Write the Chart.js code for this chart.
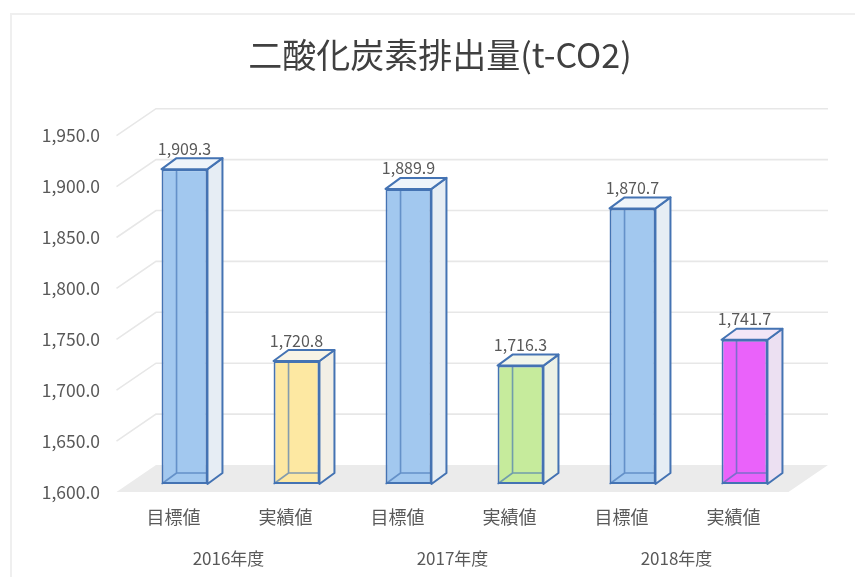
<!DOCTYPE html>
<html>
<head>
<meta charset="utf-8">
<script src="https://cdn.jsdelivr.net/npm/chart.js@4.4.1/dist/chart.umd.min.js"></script>
<style>
  html, body { margin: 0; background: #fff; }
  canvas { display: block; }
</style>
</head>
<body>
<canvas id="chart" width="855" height="577"></canvas>
<script>
// data
const title = "二酸化炭素排出量(t-CO2)";
const categories = ["目標値", "実績値", "目標値", "実績値", "目標値", "実績値"];
const years = ["2016年度", "2017年度", "2018年度"];
const emissions = [1909.3, 1720.8, 1889.9, 1716.3, 1870.7, 1741.7];
const yMin = 1600, yMax = 1950, yStep = 50;

// per-bar face colours (front / right side / top)
const frontColors = ["#a2c8ef", "#fde8a2", "#a2c8ef", "#c6eb9c", "#a2c8ef", "#ea62fa"];
const sideColors  = ["#e6edf4", "#f2efe6", "#e6edf4", "#ecf1e6", "#e6edf4", "#ece0f2"];
const topColors   = ["#eef4fa", "#f8f4e6", "#eef4fa", "#f2f6ec", "#eef4fa", "#f3e6f7"];

const EDGE = "#4473b3";
const TEXT = "#595959";
const FONT = "'Noto Sans CJK JP', 'Noto Sans', sans-serif";

// fake 3D geometry, offsets from the bar plane in px
const DEPTH = { dx: 15, dy: -11 };       // bar depth
const WALL = { frontX: -12, frontY: 8, backX: 27.5, backY: -19 };

const fmt = (v) => Number(v).toLocaleString("en-US", { minimumFractionDigits: 1, maximumFractionDigits: 1 });

const box3d = {
  id: "box3d",
  beforeDraw(chart) {
    const { ctx } = chart;
    ctx.save();
    ctx.strokeStyle = "#efefef";
    ctx.lineWidth = 2;
    ctx.strokeRect(11, 14, 900, 600);
    // title (drawn here so it can sit off-centre like the original)
    ctx.fillStyle = "#404040";
    ctx.font = "34px " + FONT;
    ctx.textAlign = "center";
    ctx.textBaseline = "middle";
    ctx.fillText(title, 440, 55);
    ctx.restore();
  },
  beforeDatasetsDraw(chart) {
    const { ctx, chartArea: a } = chart;
    const y = chart.scales.y;
    const base = y.getPixelForValue(yMin);
    ctx.save();
    // floor
    ctx.fillStyle = "#ebebeb";
    ctx.beginPath();
    ctx.moveTo(a.left + WALL.frontX, base + WALL.frontY);
    ctx.lineTo(a.left + WALL.backX, base + WALL.backY);
    ctx.lineTo(a.right + WALL.backX, base + WALL.backY);
    ctx.lineTo(a.right + WALL.frontX, base + WALL.frontY);
    ctx.closePath();
    ctx.fill();
    // side wall + back wall gridlines
    ctx.strokeStyle = "#e7e7e7";
    ctx.lineWidth = 1.6;
    y.ticks.forEach((t) => {
      if (t.value === yMin) return;
      const p = y.getPixelForValue(t.value);
      ctx.beginPath();
      ctx.moveTo(a.left + WALL.frontX, p + WALL.frontY);
      ctx.lineTo(a.left + WALL.backX, p + WALL.backY);
      ctx.lineTo(a.right + WALL.backX, p + WALL.backY);
      ctx.stroke();
    });
    ctx.restore();
  },
  afterDatasetsDraw(chart) {
    const { ctx } = chart;
    const meta = chart.getDatasetMeta(0);
    const { dx, dy } = DEPTH;
    ctx.save();
    ctx.lineJoin = "round";
    meta.data.forEach((bar, i) => {
      const { x, y, base, width } = bar.getProps(["x", "y", "base", "width"], true);
      const L = x - width / 2, R = x + width / 2, T = y, B = base;
      // hidden back edges seen through the glass
      ctx.strokeStyle = "rgba(68,115,179,0.65)";
      ctx.lineWidth = 1.6;
      ctx.beginPath();
      ctx.moveTo(L + dx, T + dy); ctx.lineTo(L + dx, B + dy);
      ctx.lineTo(R + dx, B + dy);
      ctx.moveTo(L, B); ctx.lineTo(L + dx, B + dy);
      ctx.stroke();
      ctx.strokeStyle = EDGE;
      ctx.lineWidth = 2;
      // right side
      ctx.fillStyle = sideColors[i];
      ctx.beginPath();
      ctx.moveTo(R, T); ctx.lineTo(R + dx, T + dy);
      ctx.lineTo(R + dx, B + dy); ctx.lineTo(R, B);
      ctx.closePath();
      ctx.fill(); ctx.stroke();
      // top
      ctx.fillStyle = topColors[i];
      ctx.beginPath();
      ctx.moveTo(L, T); ctx.lineTo(L + dx, T + dy);
      ctx.lineTo(R + dx, T + dy); ctx.lineTo(R, T);
      ctx.closePath();
      ctx.fill(); ctx.stroke();
      // value label
      ctx.fillStyle = TEXT;
      ctx.font = "16px " + FONT;
      ctx.textAlign = "center";
      ctx.textBaseline = "middle";
      ctx.fillText(fmt(emissions[i]), x, T - 20.5);
    });
    ctx.restore();
  },
};

new Chart(document.getElementById("chart"), {
  type: "bar",
  data: {
    labels: categories,
    datasets: [{
      data: emissions,
      base: yMin,
      backgroundColor: frontColors,
      borderColor: EDGE,
      borderWidth: 2,
      borderSkipped: false,
      categoryPercentage: 1,
      barPercentage: 0.41,
    }],
  },
  options: {
    responsive: false,
    animation: false,
    devicePixelRatio: 1,
    layout: { padding: { left: 0, right: 54.5, top: 127.7, bottom: 0 } },
    plugins: {
      legend: { display: false },
      tooltip: { enabled: false },
      title: { display: false },
    },
    scales: {
      y: {
        min: yMin, max: yMax,
        grid: { display: false, drawTicks: false },
        border: { display: false },
        ticks: {
          stepSize: yStep, color: TEXT, padding: 28.5, labelOffset: 8,
          font: { family: FONT, size: 17.5 },
          callback: (v) => fmt(v),
        },
        afterFit: (s) => { s.width = 128.5; },
      },
      x: {
        grid: { display: false, drawTicks: false },
        border: { display: false },
        ticks: { color: TEXT, padding: 22, labelOffset: -11, font: { family: FONT, size: 18 } },
        afterFit: (s) => { s.height = 50; },
      },
      x2: {
        type: "category",
        labels: years,
        position: "bottom",
        offset: true,
        grid: { display: false, drawTicks: false },
        border: { display: false },
        ticks: { color: TEXT, padding: 14, labelOffset: -12, font: { family: FONT, size: 17 } },
        afterFit: (s) => { s.height = 43; },
      },
    },
  },
  plugins: [box3d],
});
</script>
</body>
</html>
